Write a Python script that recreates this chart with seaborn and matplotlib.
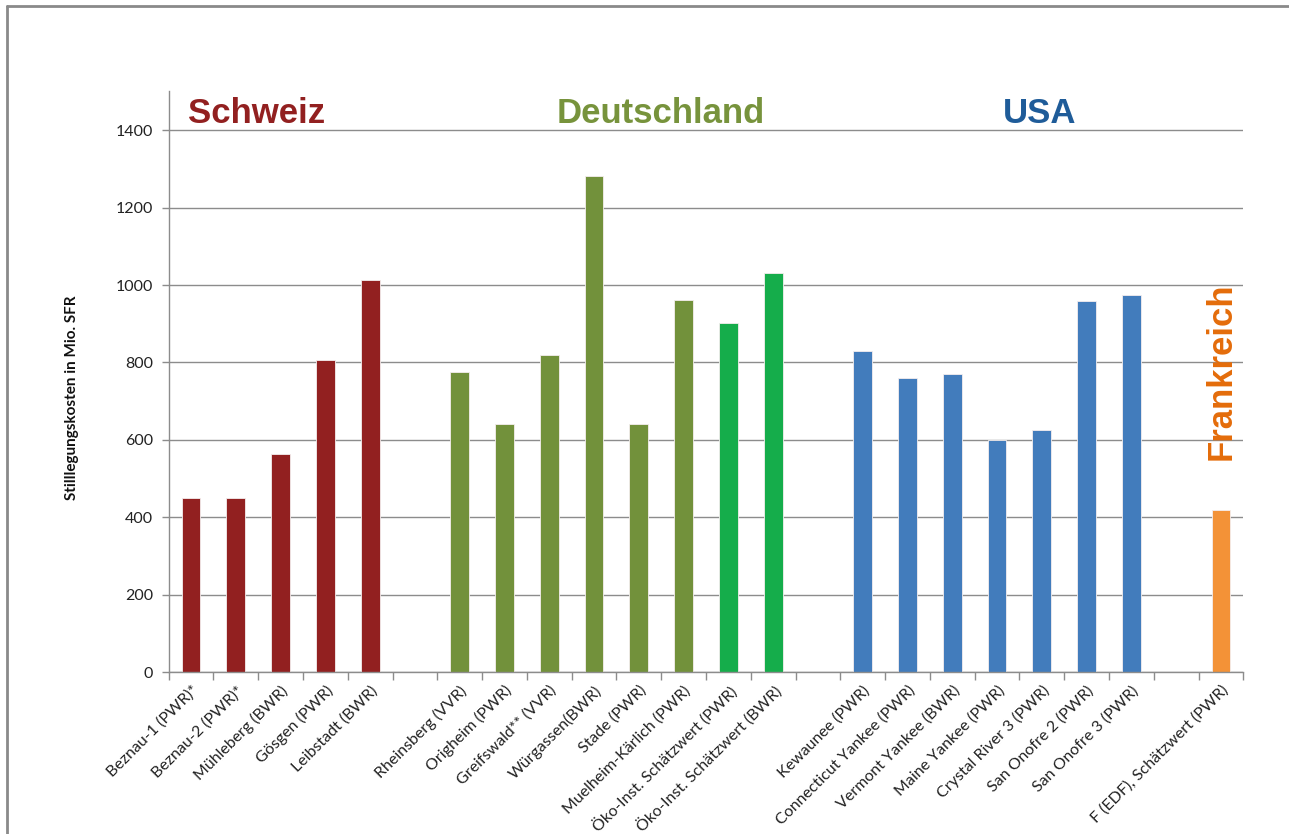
import matplotlib
matplotlib.use("Agg")
import matplotlib.pyplot as plt
import matplotlib.lines as mlines
import seaborn as sns
import pandas as pd

# ---- data ----
schweiz_labels = ["Beznau-1 (PWR)*", "Beznau-2 (PWR)*", "Mühleberg (BWR)", "Gösgen (PWR)", "Leibstadt (BWR)"]
schweiz_values = [450, 450, 564, 805, 1013]

deutschland_labels = ["Rheinsberg (VVR)", "Origheim (PWR)", "Greifswald** (VVR)", "Würgassen(BWR)",
                      "Stade (PWR)", "Muelheim-Kärlich (PWR)"]
deutschland_values = [774, 642, 820, 1282, 642, 960]

oeko_labels = ["Öko-Inst. Schätzwert (PWR)", "Öko-Inst. Schätzwert (BWR)"]
oeko_values = [902, 1030]

usa_labels = ["Kewaunee (PWR)", "Connecticut Yankee (PWR)", "Vermont Yankee (BWR)", "Maine Yankee (PWR)",
              "Crystal River 3 (PWR)", "San Onofre 2 (PWR)", "San Onofre 3 (PWR)"]
usa_values = [830, 759, 769, 600, 626, 959, 974]

frankreich_labels = ["F (EDF), Schätzwert (PWR)"]
frankreich_values = [418]

group_titles = ["Schweiz", "Deutschland", "USA", "Frankreich"]

y_ticks = [0, 200, 400, 600, 800, 1000, 1200, 1400]
y_label = "Stilllegungskosten in Mio. SFR"

# ---- colours ----
bar_colors = {"CH": "#922020", "DE": "#72913B", "OEKO": "#15AD4B", "US": "#427CBC", "FR": "#F39237"}
title_colors = ["#922020", "#77933C", "#1F5C99", "#E46C0A"]

# ---- table ----
rows = []
for lab, v in zip(schweiz_labels, schweiz_values):
    rows.append((lab, v, "CH"))
for lab, v in zip(deutschland_labels, deutschland_values):
    rows.append((lab, v, "DE"))
for lab, v in zip(oeko_labels, oeko_values):
    rows.append((lab, v, "OEKO"))
for lab, v in zip(usa_labels, usa_values):
    rows.append((lab, v, "US"))
for lab, v in zip(frankreich_labels, frankreich_values):
    rows.append((lab, v, "FR"))
df = pd.DataFrame(rows, columns=["label", "value", "grp"])

gap1, gap2, gap3 = " ", "  ", "   "
order = (schweiz_labels + [gap1] + deutschland_labels + oeko_labels + [gap2]
         + usa_labels + [gap3] + frankreich_labels)

sns.set_theme(style="white")
plt.rcParams["font.family"] = ["Lato", "DejaVu Sans"]

fig = plt.figure(figsize=(12.89, 8.34), dpi=100)
ax = fig.add_axes([0.1308, 0.1942, 0.8338, 0.6961])

sns.barplot(data=df, x="label", y="value", hue="grp", order=order, palette=bar_colors,
            dodge=False, width=0.42, legend=False, ax=ax, edgecolor="#f4eeee", linewidth=0.6,
            saturation=1)

ax.set_xlim(-0.5, len(order) - 0.5)
ax.set_ylim(0, 1500)
ax.set_yticks(y_ticks)
ax.set_yticklabels([str(t) for t in y_ticks], fontsize=11.5, color="#222222")
ax.yaxis.grid(True, color="#8c8c8c", linewidth=1.0)
ax.set_axisbelow(True)

ax.set_xticks(range(len(order)))
ax.set_xticklabels(order, rotation=45, ha="right", rotation_mode="anchor", fontsize=11.5, color="#222222")
ax.set_xticks([i - 0.5 for i in range(len(order) + 1)], minor=True)
ax.tick_params(axis="x", which="major", length=0, pad=8)
ax.tick_params(axis="x", which="minor", length=6, color="#8c8c8c", width=1, bottom=True)
ax.tick_params(axis="y", which="major", length=5, color="#8c8c8c", width=1, pad=6, left=True)
ax.set_xlabel("")
ax.set_ylabel("")

for s in ["top", "right"]:
    ax.spines[s].set_visible(False)
for s in ["left", "bottom"]:
    ax.spines[s].set_color("#8c8c8c")
    ax.spines[s].set_linewidth(1.0)

fig.text(72 / 1289, 1 - 398 / 834, y_label, rotation=90, ha="center", va="center",
         fontsize=11, fontweight="bold", color="#111111")

# group titles
title_font = ["Liberation Sans", "DejaVu Sans"]
ax.text(1.47, 1444, group_titles[0], ha="center", va="center", fontsize=25, fontweight="bold",
        color=title_colors[0], family=title_font)
ax.text(10.5, 1444, group_titles[1], ha="center", va="center", fontsize=25, fontweight="bold",
        color=title_colors[1], family=title_font)
ax.text(18.96, 1444, group_titles[2], ha="center", va="center", fontsize=25, fontweight="bold",
        color=title_colors[2], family=title_font)
ax.text(23.0, 778, group_titles[3], ha="center", va="center", rotation=90, fontsize=25,
        fontweight="bold", color=title_colors[3], family=title_font)

# outer frame
fig.add_artist(mlines.Line2D([7 / 1289, 7 / 1289], [0, 1 - 6 / 834], transform=fig.transFigure,
                             color="#8a8a8a", linewidth=2))
fig.add_artist(mlines.Line2D([7 / 1289, 1], [1 - 6 / 834, 1 - 6 / 834], transform=fig.transFigure,
                             color="#8a8a8a", linewidth=2))

fig.savefig("out.png", dpi=100, facecolor="white")
